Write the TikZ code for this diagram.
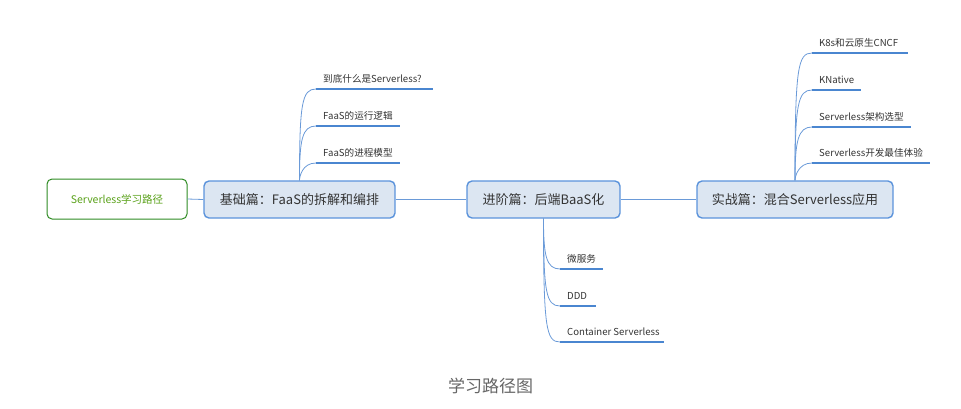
\documentclass[tikz,border=0pt]{standalone}
\usepackage{fontspec}
\setmainfont{Noto Sans CJK SC}
\definecolor{boxfill}{HTML}{DCE6F2}
\definecolor{boxline}{HTML}{5B93DB}
\definecolor{conn}{HTML}{6A9AD8}
\definecolor{leafblue}{HTML}{4A86D0}
\definecolor{rootline}{HTML}{2E8B22}
\definecolor{roottext}{HTML}{5BA21B}
\definecolor{darktext}{HTML}{333333}
\begin{document}
\begin{tikzpicture}[x=1pt,y=-1pt,
  mainbox/.style={draw=boxline, line width=1.4pt, fill=boxfill, rounded corners=5pt,
    minimum height=37pt, inner sep=0pt, text=darktext, font=\fontsize{13}{15}\selectfont},
  rootbox/.style={draw=rootline, line width=1pt, fill=white, rounded corners=5pt,
    minimum width=140pt, minimum height=40pt, inner sep=0pt, text=roottext,
    font=\fontsize{10.5}{12}\selectfont},
  conline/.style={draw=conn, line width=0.8pt},
  branch/.style={draw=conn, line width=0.8pt},
  leafline/.style={draw=leafblue, line width=2pt},
  leaftext/.style={anchor=base west, inner sep=0pt, text=darktext, font=\fontsize{9.6}{11}\selectfont}
]
\useasboundingbox (0,0) rectangle (961,408);

% main nodes
\node[rootbox] (root) at (117,199) {Serverless学习路径};
\node[mainbox, minimum width=191pt] (b1) at (299.5,199.5) {基础篇：FaaS的拆解和编排};
\node[mainbox, minimum width=153pt] (b2) at (543.5,199.5) {进阶篇：后端BaaS化};
\node[mainbox, minimum width=196pt] (b3) at (795,199.5) {实战篇：混合Serverless应用};

\draw[conline] (root.east) -- (b1.west);
\draw[conline] (b1.east) -- (b2.west);
\draw[conline] (b2.east) -- (b3.west);

% top leaves of b1
\foreach \n/\y/\xe/\t in {a1/89/433/{到底什么是Serverless?}, a2/126/400/{FaaS的运行逻辑}, a3/163/400/{FaaS的进程模型}}{
  \coordinate (\n s) at (316,\y);
  \coordinate (\n e) at (\xe,\y);
  \node[leaftext] (\n) at (323,\y-6.5) {\t};
  \draw[leafline] (\n s) -- (\n e);
  \draw[branch] (b1.north) .. controls (299.5,\y+14) and (302,\y) .. (\n s);
}

% right leaves of b3
\foreach \n/\y/\xe/\t in {c1/53/908/{K8s和云原生CNCF}, c2/90/861/{KNative}, c3/127/911/{Serverless架构选型}, c4/163/930/{Serverless开发最佳体验}}{
  \coordinate (\n s) at (812,\y);
  \coordinate (\n e) at (\xe,\y);
  \node[leaftext] (\n) at (819,\y-6.5) {\t};
  \draw[leafline] (\n s) -- (\n e);
  \draw[branch] (b3.north) .. controls (795,\y+14) and (798,\y) .. (\n s);
}

% bottom leaves of b2
\foreach \n/\y/\xe/\t in {d1/269/603/{微服务}, d2/306/596/{DDD}, d3/342/664/{Container Serverless}}{
  \coordinate (\n s) at (560,\y);
  \coordinate (\n e) at (\xe,\y);
  \node[leaftext] (\n) at (567,\y-6.5) {\t};
  \draw[leafline] (\n s) -- (\n e);
  \draw[branch] (b2.south) .. controls (543.5,\y-14) and (546,\y) .. (\n s);
}

\node[text=black!60, font=\fontsize{17}{19}\selectfont, inner sep=0pt] (cap) at (490.5,386) {学习路径图};
\end{tikzpicture}
\end{document}
